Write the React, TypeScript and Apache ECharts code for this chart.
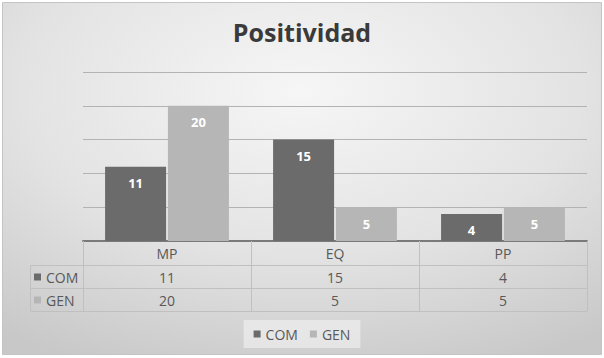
import React, { useEffect, useRef } from "react";
import * as echarts from "echarts";

const categories = ["MP", "EQ", "PP"];
const seriesNames = ["COM", "GEN"];
const comValues = [11, 15, 4];
const genValues = [20, 5, 5];
const yTicks = { min: 0, max: 25, interval: 5 };

const TEXT = "#595959";
const FONT = "'Open Sans', 'Noto Sans', sans-serif";

export default function App() {
  const ref = useRef<HTMLDivElement>(null);
  useEffect(() => {
    document.body.style.margin = "0";
    const chart = echarts.init(ref.current!, undefined, { renderer: "svg" });
    const valueAxis = (values: number[]) => (_v: string, i: number) => String(values[i]);
    const tableAxisBase = {
      type: "category" as const,
      data: categories,
      position: "bottom" as const,
      axisTick: { show: false },
    };
    chart.setOption({
      animation: false,
      textStyle: { fontFamily: FONT },
      title: {
        text: "Positividad",
        left: "center",
        top: 14,
        textStyle: { fontFamily: FONT, fontWeight: "bold", fontSize: 25, color: "#3a3a3a" },
      },
      graphic: [
        {
          type: "rect",
          z: -10,
          silent: true,
          shape: { x: 2.5, y: 2.5, width: 599, height: 352 },
          style: {
            fill: new echarts.graphic.RadialGradient(0.5, 0.25, 0.85, [
              { offset: 0, color: "#f6f6f6" },
              { offset: 0.55, color: "#e3e3e3" },
              { offset: 1, color: "#c8c8c8" },
            ]),
            stroke: "#c4c4c4",
            lineWidth: 1,
          },
        },
        {
          type: "rect",
          z: 5,
          silent: true,
          shape: { x: 30.5, y: 265.5, width: 53, height: 46 },
          style: { fill: "none", stroke: "#c0c0c0", lineWidth: 1 },
        },
        {
          type: "line",
          z: 5,
          silent: true,
          shape: { x1: 30.5, y1: 288.5, x2: 83, y2: 288.5 },
          style: { stroke: "#c0c0c0", lineWidth: 1 },
        },
      ],
      legend: [
        {
          data: seriesNames,
          left: "center",
          top: 320,
          icon: "rect",
          itemWidth: 7,
          itemHeight: 7,
          itemGap: 12,
          padding: [7, 10],
          backgroundColor: "rgba(245,245,245,0.55)",
          selectedMode: false,
          textStyle: { color: TEXT, fontSize: 14, fontFamily: FONT },
        },
        {
          data: seriesNames,
          orient: "vertical",
          left: 34,
          top: 269,
          padding: 0,
          icon: "rect",
          itemWidth: 7,
          itemHeight: 7,
          itemGap: 7,
          selectedMode: false,
          textStyle: { color: TEXT, fontSize: 14, lineHeight: 16, fontFamily: FONT },
        },
      ],
      grid: { left: 83, right: 17, top: 72, bottom: 117 },
      xAxis: [
        {
          type: "category",
          data: categories,
          position: "bottom",
          axisLine: { show: true, lineStyle: { color: "#7a7a7a", width: 2 } },
          axisTick: { show: true, length: 70, lineStyle: { color: "#c0c0c0" } },
          axisLabel: { color: TEXT, fontSize: 14, margin: 12, verticalAlign: "middle" },
        },
        {
          ...tableAxisBase,
          offset: 24,
          axisLine: { show: true, lineStyle: { color: "#c0c0c0" } },
          axisLabel: { color: TEXT, fontSize: 14, margin: 12, verticalAlign: "middle", formatter: valueAxis(comValues) },
        },
        {
          ...tableAxisBase,
          offset: 47,
          axisLine: { show: true, lineStyle: { color: "#c0c0c0" } },
          axisLabel: { color: TEXT, fontSize: 14, margin: 12, verticalAlign: "middle", formatter: valueAxis(genValues) },
        },
        {
          ...tableAxisBase,
          offset: 70,
          axisLine: { show: true, lineStyle: { color: "#c0c0c0" } },
          axisLabel: { show: false },
        },
      ],
      yAxis: {
        type: "value",
        min: yTicks.min,
        max: yTicks.max,
        interval: yTicks.interval,
        axisLabel: { show: false },
        axisLine: { show: false },
        axisTick: { show: false },
        splitLine: { lineStyle: { color: "#b3b3b3", width: 1 } },
      },
      series: [
        {
          name: seriesNames[0],
          type: "bar",
          data: comValues,
          barWidth: 61,
          barGap: "3%",
          itemStyle: { color: "#6b6b6b" },
          label: { show: true, position: "insideTop", distance: 10, color: "#ffffff", fontWeight: "bold", fontSize: 13 },
        },
        {
          name: seriesNames[1],
          type: "bar",
          data: genValues,
          barWidth: 61,
          barGap: "3%",
          itemStyle: { color: "#b6b6b6" },
          label: { show: true, position: "insideTop", distance: 10, color: "#ffffff", fontWeight: "bold", fontSize: 13 },
        },
      ],
    });
    return () => chart.dispose();
  }, []);
  return <div ref={ref} style={{ width: 604, height: 358, background: "#ffffff" }} />;
}
